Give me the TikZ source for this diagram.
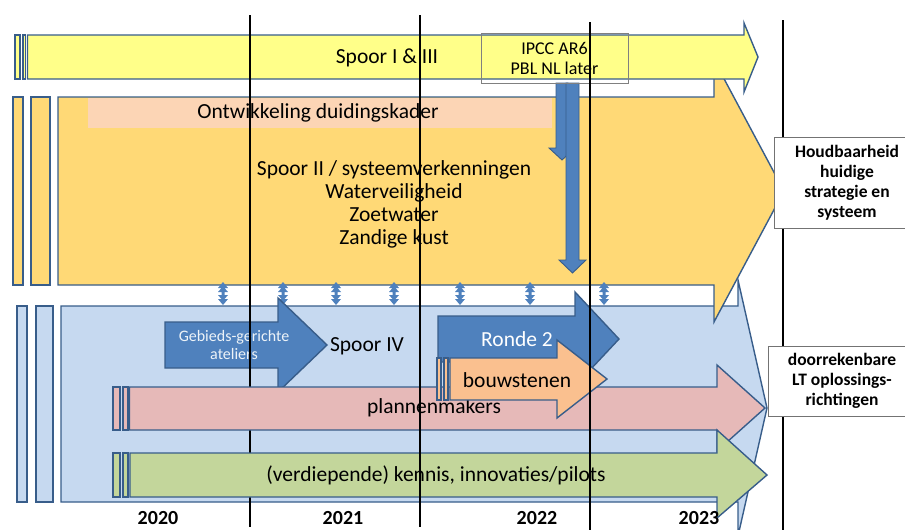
\documentclass[tikz,border=0pt]{standalone}
\usepackage{fontspec}
\setmainfont{Carlito}
\definecolor{edgeblue}{RGB}{56,93,138}
\definecolor{darkblue}{RGB}{79,129,189}
\definecolor{iyellow}{RGB}{255,255,137}
\definecolor{iiyellow}{RGB}{255,217,118}
\definecolor{ivblue}{RGB}{198,217,240}
\definecolor{peach}{RGB}{252,213,181}
\definecolor{planpink}{RGB}{230,185,184}
\definecolor{kennisgreen}{RGB}{195,214,155}
\definecolor{bouworange}{RGB}{250,192,143}

\begin{document}
\begin{tikzpicture}[x=1pt,y=-1pt]
  \tikzstyle{every node}+=[inner sep=0pt]
  \tikzstyle{edge}=[draw=edgeblue, line width=1.4pt, line join=miter]
  \tikzstyle{yearline}=[black, line width=2.8pt]
  \tikzstyle{txt}=[font=\fontsize{21.5}{23}\selectfont, align=center]
  \tikzstyle{smalltxt}=[font=\fontsize{16}{18}\selectfont, align=center]
  \tikzstyle{labelbox}=[draw=black!55, fill=white, line width=1pt, align=center, font=\bfseries\fontsize{17.5}{20}\selectfont]
  \useasboundingbox (0,0) rectangle (905,530);
  \draw [edge, fill=ivblue] (17,306) rectangle (27,502);
  \draw [edge, fill=ivblue] (36,306) rectangle (53,502);
  \draw [edge, fill=ivblue] (61,306) -- (738,306) -- (738,280) -- (767,408) -- (738,536) -- (738,502) -- (61,502) -- cycle;
  \draw [edge, fill=iiyellow] (13,97) rectangle (23,285);
  \draw [edge, fill=iiyellow] (31,97) rectangle (50,285);
  \draw [edge, fill=iiyellow] (58,97) -- (714,97) -- (714,60) -- (784,191) -- (714,322) -- (714,285) -- (58,285) -- cycle;
  \fill [peach] (88,98) rectangle (552,128);
  \node [txt] (duiding) at (318,113) {Ontwikkeling duidingskader};
  \node [txt] (spoorii) at (394,204) {Spoor II / systeemverkenningen\\Waterveiligheid\\Zoetwater\\Zandige kust};
  \draw [edge, fill=darkblue, line width=0.9pt] (556,83) -- (568,83) -- (568,148) -- (575,148) -- (562,160) -- (549,148) -- (556,148) -- cycle;
  \draw [edge, fill=darkblue, line width=0.9pt] (566,83) -- (579,83) -- (579,260) -- (586,260) -- (572.5,273) -- (559,260) -- (566,260) -- cycle;
  \draw [edge, fill=iyellow] (15,35) rectangle (20,79);
  \draw [edge, fill=iyellow] (23,35) rectangle (25.5,79);
  \draw [edge, fill=iyellow] (27.5,35) -- (744,35) -- (744,23) -- (758,57) -- (744,92) -- (744,79) -- (27.5,79) -- cycle;
  \node [txt] (spoori) at (387,58) {Spoor I \& III};
  \node [draw=black!50, line width=0.9pt, minimum width=147, minimum height=50, align=center, font=\fontsize{18}{20}\selectfont] (ipcc) at (554.5,58) {IPCC AR6\\PBL NL later};
  \fill [darkblue] (223,282) -- ++(5,6) -- ++(-3.5,0) -- ++(3.5,4) -- ++(-3.5,0) -- ++(0,3) -- ++(3.5,0) -- ++(-3.5,4) -- ++(3.5,0) -- ++(-5,6) -- ++(-5,-6) -- ++(3.5,0) -- ++(-3.5,-4) -- ++(3.5,0) -- ++(0,-3) -- ++(-3.5,0) -- ++(3.5,-4) -- ++(-3.5,0) -- cycle;
  \fill [darkblue] (283,282) -- ++(5,6) -- ++(-3.5,0) -- ++(3.5,4) -- ++(-3.5,0) -- ++(0,3) -- ++(3.5,0) -- ++(-3.5,4) -- ++(3.5,0) -- ++(-5,6) -- ++(-5,-6) -- ++(3.5,0) -- ++(-3.5,-4) -- ++(3.5,0) -- ++(0,-3) -- ++(-3.5,0) -- ++(3.5,-4) -- ++(-3.5,0) -- cycle;
  \fill [darkblue] (336,282) -- ++(5,6) -- ++(-3.5,0) -- ++(3.5,4) -- ++(-3.5,0) -- ++(0,3) -- ++(3.5,0) -- ++(-3.5,4) -- ++(3.5,0) -- ++(-5,6) -- ++(-5,-6) -- ++(3.5,0) -- ++(-3.5,-4) -- ++(3.5,0) -- ++(0,-3) -- ++(-3.5,0) -- ++(3.5,-4) -- ++(-3.5,0) -- cycle;
  \fill [darkblue] (394,282) -- ++(5,6) -- ++(-3.5,0) -- ++(3.5,4) -- ++(-3.5,0) -- ++(0,3) -- ++(3.5,0) -- ++(-3.5,4) -- ++(3.5,0) -- ++(-5,6) -- ++(-5,-6) -- ++(3.5,0) -- ++(-3.5,-4) -- ++(3.5,0) -- ++(0,-3) -- ++(-3.5,0) -- ++(3.5,-4) -- ++(-3.5,0) -- cycle;
  \fill [darkblue] (460,282) -- ++(5,6) -- ++(-3.5,0) -- ++(3.5,4) -- ++(-3.5,0) -- ++(0,3) -- ++(3.5,0) -- ++(-3.5,4) -- ++(3.5,0) -- ++(-5,6) -- ++(-5,-6) -- ++(3.5,0) -- ++(-3.5,-4) -- ++(3.5,0) -- ++(0,-3) -- ++(-3.5,0) -- ++(3.5,-4) -- ++(-3.5,0) -- cycle;
  \fill [darkblue] (530,282) -- ++(5,6) -- ++(-3.5,0) -- ++(3.5,4) -- ++(-3.5,0) -- ++(0,3) -- ++(3.5,0) -- ++(-3.5,4) -- ++(3.5,0) -- ++(-5,6) -- ++(-5,-6) -- ++(3.5,0) -- ++(-3.5,-4) -- ++(3.5,0) -- ++(0,-3) -- ++(-3.5,0) -- ++(3.5,-4) -- ++(-3.5,0) -- cycle;
  \fill [darkblue] (604,282) -- ++(5,6) -- ++(-3.5,0) -- ++(3.5,4) -- ++(-3.5,0) -- ++(0,3) -- ++(3.5,0) -- ++(-3.5,4) -- ++(3.5,0) -- ++(-5,6) -- ++(-5,-6) -- ++(3.5,0) -- ++(-3.5,-4) -- ++(3.5,0) -- ++(0,-3) -- ++(-3.5,0) -- ++(3.5,-4) -- ++(-3.5,0) -- cycle;
  \draw [edge, fill=darkblue] (165,322) -- (278,322) -- (278,298) -- (327,345) -- (278,392) -- (278,368) -- (165,368) -- cycle;
  \node [smalltxt, text=white!90!darkblue] (ateliers) at (234,345) {Gebieds-gerichte\\ateliers};
  \node [txt] (spooriv) at (367,346) {Spoor IV};
  \draw [yearline] (250,15) -- (250,527);
  \draw [edge, fill=planpink] (113,387) rectangle (120,430);
  \draw [edge, fill=planpink] (123,387) rectangle (128,430);
  \draw [edge, fill=planpink] (129.5,387) -- (717,387) -- (717,365) -- (765,408) -- (717,451) -- (717,430) -- (129.5,430) -- cycle;
  \node [txt] (plannen) at (434,408) {plannenmakers};
  \draw [edge, fill=kennisgreen] (113,453) rectangle (120,497);
  \draw [edge, fill=kennisgreen] (123,453) rectangle (128,497);
  \draw [edge, fill=kennisgreen] (130,453) -- (717,453) -- (717,430) -- (767,475) -- (717,518) -- (717,497) -- (130,497) -- cycle;
  \node [txt] (kennis) at (436,475) {(verdiepende) kennis, innovaties/pilots};
  \draw [edge, fill=darkblue] (438,316) -- (575,316) -- (575,292) -- (619,339) -- (575,386) -- (575,362) -- (438,362) -- cycle;
  \node [txt, text=white] (ronde) at (517,339) {Ronde 2};
  \draw [edge, fill=bouworange] (437,358) rectangle (441,400);
  \draw [edge, fill=bouworange] (444,358) rectangle (448,400);
  \draw [edge, fill=bouworange] (450,358) -- (557,358) -- (557,340) -- (607,379) -- (557,418) -- (557,400) -- (450,400) -- cycle;
  \node [txt] (bouw) at (517,380) {bouwstenen};
  \draw [yearline] (420,15) -- (420,527);
  \draw [yearline] (590,22) -- (590,531);
  \draw [yearline] (783,20) -- (783,531);
  \node [labelbox, minimum width=146, minimum height=91] (houdbaar) at (847,182.5) {Houdbaarheid\\huidige\\strategie en\\systeem};
  \node [labelbox, minimum width=148, minimum height=70] (doorreken) at (842,381) {doorrekenbare\\LT oplossings-\\richtingen};
  \node [txt, font=\bfseries\fontsize{20}{22}\selectfont, anchor=base] (y2020) at (158,524) {2020};
  \node [txt, font=\bfseries\fontsize{20}{22}\selectfont, anchor=base] (y2021) at (343,524) {2021};
  \node [txt, font=\bfseries\fontsize{20}{22}\selectfont, anchor=base] (y2022) at (537,524) {2022};
  \node [txt, font=\bfseries\fontsize{20}{22}\selectfont, anchor=base] (y2023) at (699,524) {2023};
\end{tikzpicture}
\end{document}
